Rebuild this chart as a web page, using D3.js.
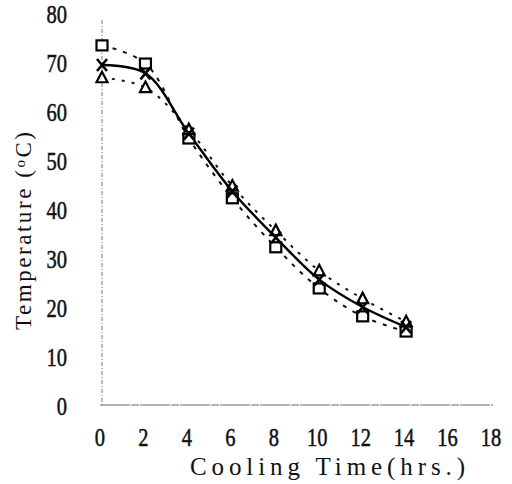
<!DOCTYPE html>
<html>
<head>
<meta charset="utf-8">
<script src="https://cdn.jsdelivr.net/npm/d3@7/dist/d3.min.js"></script>
<style>
  html, body { margin: 0; padding: 0; background: #fff; }
  svg { display: block; }
</style>
</head>
<body>
<svg id="chart" width="512" height="484" font-family="'Liberation Serif', 'Times New Roman', Tinos, 'DejaVu Serif', serif"></svg>
<script>
// ---- data ----
const hours = [0, 2, 4, 6, 8, 10, 12, 14];
const squareTemps = [74, 70.3, 55, 42.8, 32.8, 24.4, 18.7, 15.6];
const triangleTemps = [67.4, 65.4, 56.8, 45.3, 36.2, 28, 22.3, 17.6];
const crossTemps = [70, 68.3, 56, 44.2, 34.8, 26.2, 20.6, 16.5];
const xTicks = [0, 2, 4, 6, 8, 10, 12, 14, 16, 18];
const yTicks = [0, 10, 20, 30, 40, 50, 60, 70, 80];
const xTitle = "Cooling Time(hrs.)";
const yTitleMain = "Temperature (";
const yTitleDeg = "o";
const yTitleUnit = "C)";

// ---- scales ----
const x = d3.scaleLinear().domain([0, 18]).range([102, 493]);
const y = d3.scaleLinear().domain([0, 80]).range([408, 16]);

const svg = d3.select("#chart");

// axes lines
svg.append("line")
  .attr("x1", x(0)).attr("x2", x(0))
  .attr("y1", y(80) + 4).attr("y2", y(0) - 3)
  .attr("stroke", "#777").attr("stroke-width", 1)
  .attr("stroke-dasharray", "4,2,1,2");
svg.append("line")
  .attr("x1", x(0) - 2).attr("x2", x(18))
  .attr("y1", y(0) - 3).attr("y2", y(0) - 3)
  .attr("stroke", "#666").attr("stroke-width", 1.2)
  .attr("stroke-dasharray", "30,1,8,1");

// tick labels (tall, narrow serif digits)
svg.append("g").selectAll("text").data(yTicks).join("text")
  .attr("transform", d => `translate(67,${y(d) + 1}) scale(0.82,1)`)
  .attr("text-anchor", "end")
  .attr("dominant-baseline", "middle")
  .attr("font-size", 25)
  .attr("fill", "#111")
  .attr("stroke", "#111").attr("stroke-width", 0.5)
  .text(d => d);

svg.append("g").selectAll("text").data(xTicks).join("text")
  .attr("transform", d => `translate(${x(d) - 2},440) scale(0.82,1)`)
  .attr("text-anchor", "middle")
  .attr("dominant-baseline", "middle")
  .attr("font-size", 25)
  .attr("fill", "#111")
  .attr("stroke", "#111").attr("stroke-width", 0.5)
  .text(d => d);

// axis titles
svg.append("text")
  .attr("x", 190).attr("y", 475)
  .attr("font-size", 25)
  .attr("fill", "#111")
  .attr("textLength", 275).attr("lengthAdjust", "spacing")
  .text(xTitle);

const yt = svg.append("text")
  .attr("transform", "translate(31,330) rotate(-90)")
  .attr("font-size", 23)
  .attr("fill", "#111")
  .attr("textLength", 198).attr("lengthAdjust", "spacing");
yt.append("tspan").text(yTitleMain);
yt.append("tspan").attr("font-size", 15).attr("dy", -6).text(yTitleDeg);
yt.append("tspan").attr("dy", 6).text(yTitleUnit);

// lines
const mk = vals => d3.line()
  .x((d, i) => x(hours[i]))
  .y(d => y(d))
  .curve(d3.curveCatmullRom.alpha(0.5))(vals);

svg.append("path").attr("d", mk(squareTemps))
  .attr("fill", "none").attr("stroke", "#111").attr("stroke-width", 2)
  .attr("stroke-dasharray", "4,7");
svg.append("path").attr("d", mk(triangleTemps))
  .attr("fill", "none").attr("stroke", "#111").attr("stroke-width", 2)
  .attr("stroke-dasharray", "3,7");
svg.append("path").attr("d", mk(crossTemps))
  .attr("fill", "none").attr("stroke", "#000").attr("stroke-width", 2.4);

// markers
const g = svg.append("g").attr("fill", "none").attr("stroke", "#000").attr("stroke-width", 2.2);
g.selectAll("rect.sq").data(squareTemps).join("rect")
  .attr("class", "sq")
  .attr("x", (d, i) => x(hours[i]) - 5.5)
  .attr("y", d => y(d) - 5)
  .attr("width", 11).attr("height", 10)
  .attr("fill", "#fff");
g.selectAll("path.tri").data(triangleTemps).join("path")
  .attr("class", "tri")
  .attr("transform", (d, i) => `translate(${x(hours[i])},${y(d)})`)
  .attr("d", "M0,-6L5.5,4.5L-5.5,4.5Z")
  .attr("fill", "#fff");
g.selectAll("path.cx").data(crossTemps).join("path")
  .attr("class", "cx")
  .attr("transform", (d, i) => `translate(${x(hours[i])},${y(d)})`)
  .attr("d", "M-5,-6L5,6M5,-6L-5,6")
  .attr("stroke-width", 2.6);
</script>
</body>
</html>
